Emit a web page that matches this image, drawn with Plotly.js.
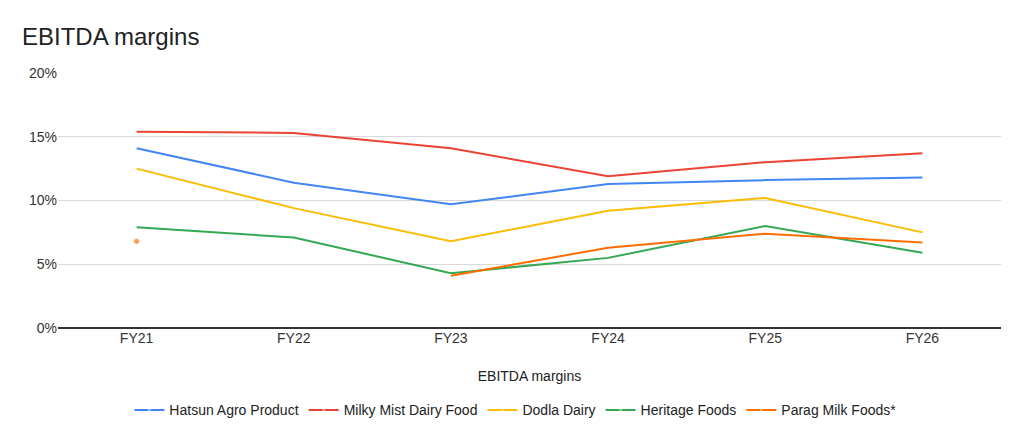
<!DOCTYPE html>
<html>
<head>
<meta charset="utf-8">
<script src="https://cdn.plot.ly/plotly-3.0.1.min.js"></script>
<style>
  html, body { margin: 0; padding: 0; background: #fff; }
  #chart { width: 1024px; height: 444px; }
</style>
</head>
<body>
<div id="chart"></div>
<script>
// --- Data (EBITDA margin, %) ---
const YEARS = ['FY21', 'FY22', 'FY23', 'FY24', 'FY25', 'FY26'];
const hatsun = [14.1, 11.4, 9.7, 11.3, 11.6, 11.8];
const milkyMist = [15.4, 15.3, 14.1, 11.9, 13.0, 13.7];
const dodla = [12.5, 9.4, 6.8, 9.2, 10.2, 7.5];
const heritage = [7.9, 7.1, 4.3, 5.5, 8.0, 5.9];
const parag = [6.8, null, 4.1, 6.3, 7.4, 6.7];

const SERIES = [
  { name: 'Hatsun Agro Product', y: hatsun, color: '#4285F4' },
  { name: 'Milky Mist Dairy Food', y: milkyMist, color: '#EA4335' },
  { name: 'Dodla Dairy', y: dodla, color: '#FBBC04' },
  { name: 'Heritage Foods', y: heritage, color: '#34A853' },
  { name: 'Parag Milk Foods*', y: parag, color: '#FF6D01' }
];

// an isolated point (no neighbours) gets a dot, like the source chart
function dotSizes(vals) {
  return vals.map(function (v, i) {
    if (v == null) return 0;
    const prev = i > 0 ? vals[i - 1] : null;
    const next = i < vals.length - 1 ? vals[i + 1] : null;
    return (prev == null && next == null) ? 6 : 0;
  });
}

const traces = SERIES.map(function (s) {
  return {
    type: 'scatter',
    mode: 'lines+markers',
    name: s.name,
    x: YEARS,
    y: s.y,
    line: { color: s.color, width: 2 },
    marker: { color: s.color, size: dotSizes(s.y) },
    connectgaps: false,
    hoverinfo: 'x+y+name'
  };
});

const FONT = '"Liberation Sans", Arial, sans-serif';

const layout = {
  width: 1024,
  height: 444,
  margin: { l: 58, r: 23, t: 73, b: 116 },
  paper_bgcolor: '#ffffff',
  plot_bgcolor: '#ffffff',
  font: { family: FONT, color: '#444', size: 14 },
  title: {
    text: 'EBITDA margins',
    font: { family: FONT, size: 24, color: '#222' },
    x: 0, xref: 'paper', xanchor: 'left',
    y: 0.917, yref: 'container', yanchor: 'middle',
    pad: { l: -36 }
  },
  xaxis: {
    type: 'category',
    range: [-0.5, 5.5],
    showgrid: false,
    showline: false,
    zeroline: false,
    ticks: '',
    tickfont: { family: FONT, size: 14, color: '#333' },
    title: { text: 'EBITDA margins', font: { family: FONT, size: 14, color: '#222' }, standoff: 26 }
  },
  yaxis: {
    range: [0, 20],
    dtick: 5,
    ticksuffix: '%',
    showgrid: true,
    gridcolor: '#d9d9d9',
    gridwidth: 1,
    zeroline: true,
    zerolinecolor: '#333333',
    zerolinewidth: 1.3,
    showline: false,
    ticks: '',
    tickfont: { family: FONT, size: 14, color: '#333' },
    fixedrange: true
  },
  showlegend: true,
  legend: {
    orientation: 'h',
    x: 0.485, xanchor: 'center',
    y: -0.26, yanchor: 'top',
    font: { family: FONT, size: 14, color: '#222' },
    itemwidth: 30,
    traceorder: 'normal'
  }
};

Plotly.newPlot('chart', traces, layout, { displayModeBar: false, staticPlot: true });
</script>
</body>
</html>
